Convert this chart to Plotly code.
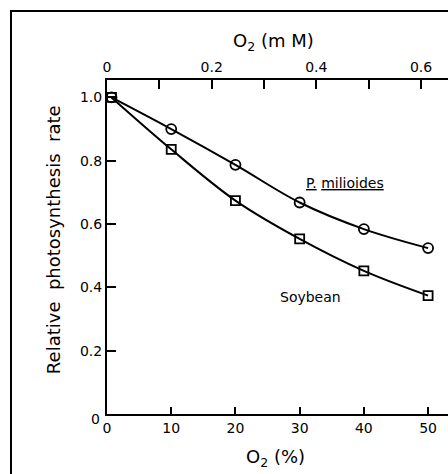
import plotly.graph_objects as go

# Data
o2_pct = [0.7, 10, 20, 30, 40, 50]
p_milioides = [1.0, 0.90, 0.787, 0.668, 0.584, 0.524]
soybean = [1.0, 0.836, 0.674, 0.553, 0.452, 0.374]

x_ticks = [0, 10, 20, 30, 40, 50]
y_ticks = [0.2, 0.4, 0.6, 0.8, 1.0]
y_ticklabels = ["0.2", "0.4", "0.6", "0.8", "1.0"]
mm_ticks = [0, 0.2, 0.4, 0.6]
mm_minor = [0.1, 0.3, 0.5]

FONT = "DejaVu Sans"
BLACK = "black"

fig = go.Figure()

fig.add_trace(go.Scatter(
    x=o2_pct, y=p_milioides, mode="lines+markers",
    line=dict(color=BLACK, width=2, shape="spline", smoothing=1.0),
    marker=dict(symbol="circle-open", size=10, color=BLACK, line=dict(width=1.8)),
    showlegend=False,
))
fig.add_trace(go.Scatter(
    x=o2_pct, y=soybean, mode="lines+markers",
    line=dict(color=BLACK, width=2, shape="spline", smoothing=1.0),
    marker=dict(symbol="square-open", size=9, color=BLACK, line=dict(width=1.8)),
    showlegend=False,
))
# dummy trace on top axis so xaxis2 is shown
fig.add_trace(go.Scatter(x=[0], y=[None], xaxis="x2", yaxis="y",
                         mode="markers", showlegend=False, hoverinfo="skip"))

fig.update_layout(
    width=448, height=474,
    margin=dict(l=107, r=0, t=80, b=60),
    paper_bgcolor="white", plot_bgcolor="white",
    font=dict(family=FONT, size=14, color=BLACK),
    xaxis=dict(
        range=[0, 53.1], tickvals=x_ticks, ticktext=[str(v) for v in x_ticks],
        ticks="inside", ticklen=7, tickwidth=2, tickcolor=BLACK,
        showline=True, linecolor=BLACK, linewidth=2, showgrid=False, zeroline=False,
        tickfont=dict(family=FONT, size=14),
    ),
    xaxis2=dict(
        overlaying="x", side="top", range=[0, 0.6516],
        tickvals=mm_ticks, ticktext=["0", "0.2", "0.4", "0.6"],
        ticks="inside", ticklen=9, tickwidth=2, tickcolor=BLACK,
        minor=dict(tickvals=mm_minor, ticks="inside", ticklen=9, tickwidth=2, tickcolor=BLACK),
        showline=True, linecolor=BLACK, linewidth=2, showgrid=False, zeroline=False,
        tickfont=dict(family=FONT, size=14),
    ),
    yaxis=dict(
        range=[0, 1.055], tickvals=y_ticks, ticktext=y_ticklabels,
        ticks="inside", ticklen=9, tickwidth=2, tickcolor=BLACK,
        showline=True, linecolor=BLACK, linewidth=2, showgrid=False, zeroline=False,
        tickfont=dict(family=FONT, size=14),
    ),
    shapes=[dict(type="rect", xref="paper", yref="paper",
                 x0=-0.2815, x1=1.2, y0=-0.3, y1=1.2066,
                 line=dict(color=BLACK, width=2), fillcolor="rgba(0,0,0,0)", layer="below")],
    annotations=[
        dict(text="O<sub>2</sub> (m M)", xref="paper", yref="paper", x=0.487, y=1.114,
             showarrow=False, font=dict(family=FONT, size=18), xanchor="center", yanchor="middle"),
        dict(text="O<sub>2</sub> (%)", xref="paper", yref="paper", x=0.493, y=-0.132,
             showarrow=False, font=dict(family=FONT, size=18), xanchor="center", yanchor="middle"),
        dict(text="Relative  photosynthesis  rate", xref="paper", yref="paper", x=-0.155, y=0.521,
             showarrow=False, textangle=-90, font=dict(family=FONT, size=18),
             xanchor="center", yanchor="middle"),
        dict(text="0", xref="paper", yref="paper", x=(95 - 107) / 341, y=(414 - 419) / 334,
             showarrow=False, font=dict(family=FONT, size=14), xanchor="center", yanchor="middle"),
        dict(text="<u>P.</u> <u>milioides</u>", xref="x", yref="y", x=37.1, y=0.73,
             showarrow=False, font=dict(family=FONT, size=14), xanchor="center", yanchor="middle"),
        dict(text="Soybean", xref="x", yref="y", x=31.7, y=0.37,
             showarrow=False, font=dict(family=FONT, size=14), xanchor="center", yanchor="middle"),
    ],
)

fig.write_html("out.html")
